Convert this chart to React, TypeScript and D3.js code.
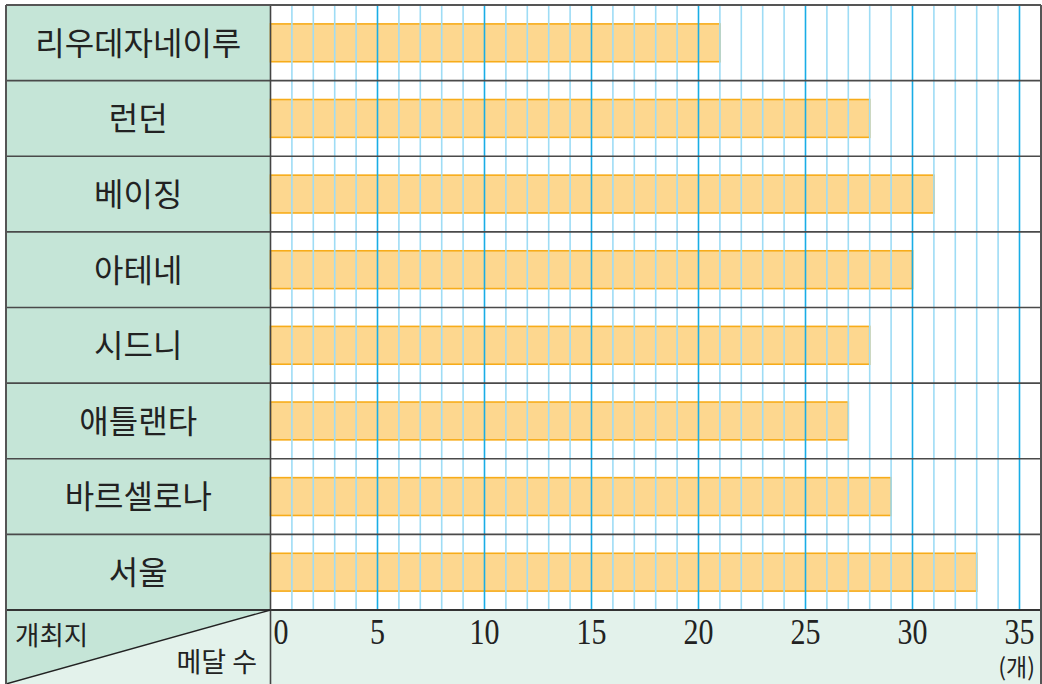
import React from "react";
import * as d3 from "d3";

const categories = ["리우데자네이루", "런던", "베이징", "아테네", "시드니", "애틀랜타", "바르셀로나", "서울"];
const medals = [21, 28, 31, 30, 28, 27, 29, 33];
const tickValues = [0, 5, 10, 15, 20, 25, 30, 35];
const gridValues = d3.range(1, 36);

const W = 1042;
const H = 684;
const LEFT = 6;
const SPLIT = 270.5;
const RIGHT = 1041;
const TOP = 5;
const ROWS_BOTTOM = 610;
const BOTTOM = 684;

export default function App() {
  const x = d3.scaleLinear().domain([0, 35]).range([SPLIT, 1019.5]);
  const y = d3.scaleBand<string>().domain(categories).range([TOP, ROWS_BOTTOM]).padding(0);
  const bw = y.bandwidth();
  const sansKR = "'Noto Sans CJK KR', 'Noto Sans', sans-serif";
  const serif = "'Liberation Serif', 'DejaVu Serif', serif";

  return (
    <svg width={W} height={H} style={{ position: "absolute", left: 0, top: 0, background: "#fff" }}>
      {/* left column */}
      <rect x={LEFT} y={TOP} width={SPLIT - LEFT} height={ROWS_BOTTOM - TOP} fill="#c5e5d7" />
      {/* bottom row */}
      <rect x={LEFT} y={ROWS_BOTTOM} width={RIGHT - LEFT} height={BOTTOM - ROWS_BOTTOM} fill="#e3f2eb" />
      <polygon points={`${LEFT},${ROWS_BOTTOM} ${SPLIT},${ROWS_BOTTOM} ${LEFT},${BOTTOM}`} fill="#c5e5d7" />

      {/* bars */}
      {categories.map((c, i) => (
        <rect
          key={c}
          x={x(0)}
          y={(y(c) as number) + bw * 0.25}
          width={x(medals[i]) - x(0)}
          height={bw * 0.5}
          fill="#fdd78f"
          stroke="#f7ac1a"
          strokeWidth={1.6}
        />
      ))}

      {/* grid */}
      {gridValues.map((v) => (
        <line
          key={v}
          x1={x(v)}
          x2={x(v)}
          y1={TOP}
          y2={ROWS_BOTTOM}
          stroke={v % 5 === 0 ? "#19ade6" : "#9edcf5"}
          strokeWidth={1.6}
        />
      ))}

      {/* row lines */}
      {categories.slice(1).map((c) => (
        <line key={c} x1={LEFT} x2={RIGHT} y1={y(c)} y2={y(c)} stroke="#4a4a4a" strokeWidth={1.6} />
      ))}
      <line x1={LEFT} x2={RIGHT} y1={ROWS_BOTTOM} y2={ROWS_BOTTOM} stroke="#333" strokeWidth={1.8} />
      <line x1={SPLIT} x2={SPLIT} y1={TOP} y2={BOTTOM} stroke="#444" strokeWidth={1.6} />
      <line x1={SPLIT} y1={ROWS_BOTTOM} x2={LEFT} y2={BOTTOM} stroke="#222" strokeWidth={1.4} />
      {/* outer border */}
      <line x1={LEFT} x2={RIGHT} y1={TOP} y2={TOP} stroke="#555" strokeWidth={2} />
      <line x1={LEFT} x2={LEFT} y1={TOP} y2={BOTTOM} stroke="#555" strokeWidth={2} />
      <line x1={RIGHT} x2={RIGHT} y1={TOP} y2={BOTTOM} stroke="#555" strokeWidth={2} />

      {/* category labels */}
      {categories.map((c) => (
        <text
          key={c}
          x={(LEFT + SPLIT) / 2}
          y={(y(c) as number) + bw / 2}
          dy="0.37em"
          textAnchor="middle"
          fontFamily={sansKR}
          fontSize={32}
          fill="#222"
        >
          {c}
        </text>
      ))}

      {/* tick labels */}
      {tickValues.map((v) => (
        <g key={v} transform={`translate(${v === 0 ? x(v) + 3 : x(v)}, 644) scale(1, 1.18)`}>
          <text
            x={0}
            y={0}
            textAnchor={v === 0 ? "start" : "middle"}
            fontFamily={serif}
            fontSize={30}
            fill="#222"
          >
            {v}
          </text>
        </g>
      ))}
      <g transform="translate(1035, 676) scale(1, 1.05)">
        <text x={0} y={0} textAnchor="end" fontFamily={sansKR} fontSize={23} fill="#222">
          (개)
        </text>
      </g>

      <text x={15} y={645} fontFamily={sansKR} fontSize={26.5} fill="#222">
        개최지
      </text>
      <text x={257} y={672} textAnchor="end" fontFamily={sansKR} fontSize={27} fill="#222">
        메달 수
      </text>
    </svg>
  );
}
